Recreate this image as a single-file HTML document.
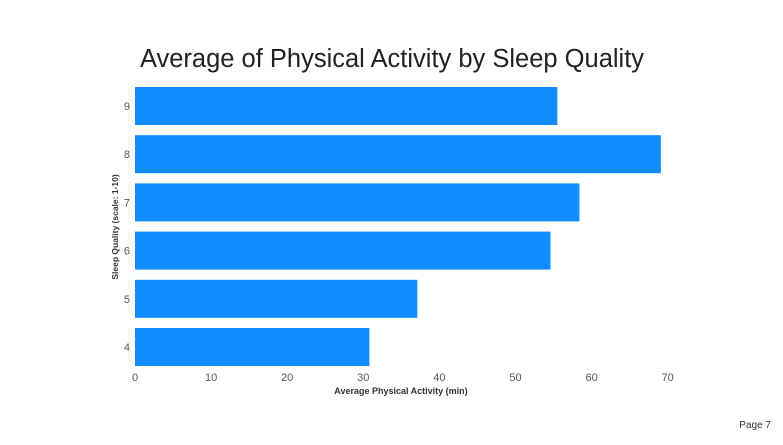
<!DOCTYPE html>
<html><head><meta charset="utf-8"><style>
body{margin:0;background:#fff;font-family:"Liberation Sans",sans-serif}
</style></head><body>
<svg width="783" height="440" xmlns="http://www.w3.org/2000/svg">
<rect width="783" height="440" fill="#fff"/>
<text x="392" y="67" text-anchor="middle" font-size="25.5" fill="#222" font-family="Liberation Sans, sans-serif">Average of Physical Activity by Sleep Quality</text>
<g id="bars"></g>
<g id="xt"></g>
<g id="yt"></g>
<text x="401" y="394" text-anchor="middle" font-size="9" font-weight="bold" fill="#333">Average Physical Activity (min)</text>
<text transform="translate(118,227) rotate(-90)" text-anchor="middle" font-size="8.5" font-weight="bold" fill="#333">Sleep Quality (scale: 1-10)</text>
<text x="771" y="428" text-anchor="end" font-size="10" fill="#333">Page 7</text>
</svg>
<script>
const categories=["9","8","7","6","5","4"];
const values=[55.5,69.1,58.4,54.6,37.1,30.8];
const xTicks=[0,10,20,30,40,50,60,70];
const NS="http://www.w3.org/2000/svg";
const x=v=>135+v*7.61;
const bandTop=83, band=48.2, barH=38;
const y=i=>bandTop+i*band+4;
const bars=document.getElementById('bars');
categories.forEach((c,i)=>{
 const r=document.createElementNS(NS,'rect');
 r.setAttribute('x',x(0));r.setAttribute('y',y(i));
 r.setAttribute('width',x(values[i])-x(0));r.setAttribute('height',barH);
 r.setAttribute('fill','#118DFF');
 
 
 bars.appendChild(r);
 const t=document.createElementNS(NS,'text');
 t.setAttribute('x',130);t.setAttribute('y',y(i)+barH/2+4);
 t.setAttribute('text-anchor','end');t.setAttribute('font-size','11');t.setAttribute('fill','#555');
 t.textContent=c;
 
 
 document.getElementById('yt').appendChild(t);
});
xTicks.forEach(v=>{
 const t=document.createElementNS(NS,'text');
 t.setAttribute('x',x(v));t.setAttribute('y',381);
 t.setAttribute('text-anchor','middle');t.setAttribute('font-size','11');t.setAttribute('fill','#555');
 t.textContent=v;
 
 
 document.getElementById('xt').appendChild(t);
});
</script>
</body></html>
